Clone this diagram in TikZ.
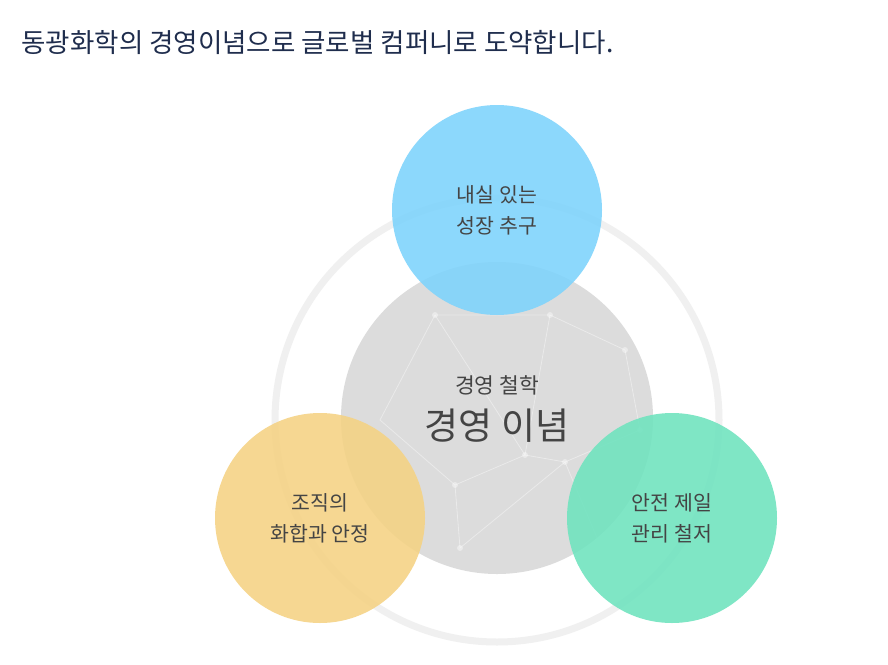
\documentclass[tikz,border=0pt]{standalone}
\usepackage{fontspec}
\setmainfont{Noto Sans CJK KR}
\definecolor{navy}{HTML}{1F2D4D}
\definecolor{skyc}{HTML}{7DD3FC}
\definecolor{sunc}{HTML}{F5D283}
\definecolor{mintc}{HTML}{6EE3BE}
\definecolor{grayc}{HTML}{DCDCDC}
\definecolor{txtc}{HTML}{444444}
\begin{document}
\begin{tikzpicture}[x=1pt,y=-1pt,
  ball/.style={circle,inner sep=0pt,minimum size=210pt,fill opacity=0.88,text opacity=1,text=txtc,align=center,font=\fontsize{20.5}{31}\selectfont}]
\useasboundingbox[fill=white] (0,0) rectangle (888,664);
\node[anchor=west,text=navy,font=\fontsize{26.5}{30}\selectfont] (title) at (18,42) {동광화학의 경영이념으로 글로벌 컴퍼니로 도약합니다.};
% outer ring
\draw[line width=7pt,color=black!6] (497,420) circle (222);
% center
\node[ball,minimum size=312pt,fill=grayc,fill opacity=1] (core) at (497,418) {};
\begin{scope}[white,line width=0.8pt,opacity=0.4]
\draw (435,315) -- (550,315) -- (625,350) -- (640,430) -- (565,462) -- (525,455) -- (455,485) -- (380,420) -- (435,315);
\draw (435,315) -- (525,455) -- (550,315);
\draw (455,485) -- (460,548) -- (565,462) -- (600,545);
\foreach \p in {(435,315),(550,315),(625,350),(640,430),(565,462),(525,455),(455,485),(460,548)}
  \fill \p circle (3);
\end{scope}
\node[text=txtc,font=\fontsize{21.5}{24}\selectfont] (sub) at (497,385) {경영 철학};
\node[text=txtc,font=\fontsize{37}{40}\selectfont] (main) at (497,426) {경영 이념};
% satellites
\node[ball,fill=skyc] (top) at (497,210) {내실 있는\\성장 추구};
\node[ball,fill=sunc] (left) at (320,518) {조직의\\화합과 안정};
\node[ball,fill=mintc] (right) at (672,518) {안전 제일\\관리 철저};
\end{tikzpicture}
\end{document}
